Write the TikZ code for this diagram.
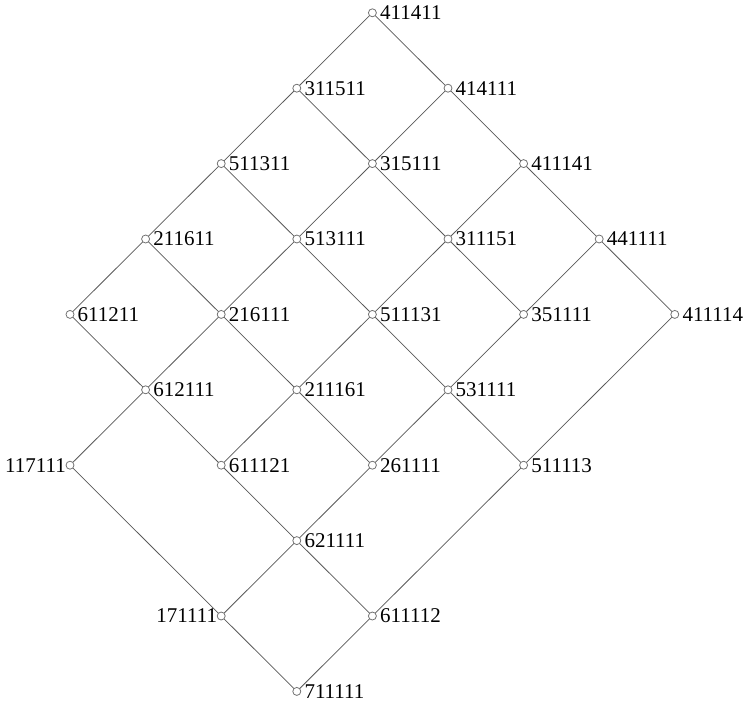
\documentclass[tikz,border=0pt]{standalone}
\usepackage{fontspec}
\setmainfont{Liberation Serif}
\begin{document}
\begin{tikzpicture}[x=1pt,y=-1pt,
  vtx/.style={circle,draw=black!55,fill=white,line width=0.8pt,inner sep=0pt,minimum size=8pt},
  lab/.style={font=\fontsize{21}{21}\selectfont,inner sep=0pt},
  edge/.style={draw=black!65,line width=0.75pt}]
\useasboundingbox (0,0) rectangle (745,705);
\foreach \n/\c/\r in {
  411411/4/0, 311511/3/1, 414111/5/1,
  511311/2/2, 315111/4/2, 411141/6/2,
  211611/1/3, 513111/3/3, 311151/5/3, 441111/7/3,
  611211/0/4, 216111/2/4, 511131/4/4, 351111/6/4, 411114/8/4,
  612111/1/5, 211161/3/5, 531111/5/5,
  117111/0/6, 611121/2/6, 261111/4/6, 511113/6/6,
  621111/3/7,
  171111/2/8, 611112/4/8,
  711111/3/9}{
  \coordinate (v\n) at ({70+75.6*\c},{12.8+75.4*\r});
}
\foreach \a/\b in {
  411411/311511, 411411/414111,
  311511/511311, 311511/315111, 414111/315111, 414111/411141,
  511311/211611, 511311/513111, 315111/513111, 315111/311151,
  411141/311151, 411141/441111,
  211611/611211, 211611/216111, 513111/216111, 513111/511131,
  311151/511131, 311151/351111, 441111/351111, 441111/411114,
  611211/612111, 216111/612111, 216111/211161,
  511131/211161, 511131/531111, 351111/531111, 411114/511113,
  612111/117111, 612111/611121, 211161/611121, 211161/261111,
  531111/261111, 531111/511113,
  117111/171111, 611121/621111, 261111/621111, 511113/611112,
  621111/171111, 621111/611112, 171111/711111, 611112/711111}{
  \draw[edge] (v\a) -- (v\b);
}
\foreach \n/\s in {
  411411/r, 311511/r, 414111/r, 511311/r, 315111/r, 411141/r,
  211611/r, 513111/r, 311151/r, 441111/r,
  611211/r, 216111/r, 511131/r, 351111/r, 411114/r,
  612111/r, 211161/r, 531111/r,
  117111/l, 611121/r, 261111/r, 511113/r,
  621111/r, 171111/l, 611112/r, 711111/r}{
  \node[vtx] (c\n) at (v\n) {};
  \if\s r
    \node[lab,anchor=west] (t\n) at ([xshift=7.5pt]v\n) {\n};
  \else
    \node[lab,anchor=east] (t\n) at ([xshift=-4pt]v\n) {\n};
  \fi
}
\end{tikzpicture}
\end{document}
